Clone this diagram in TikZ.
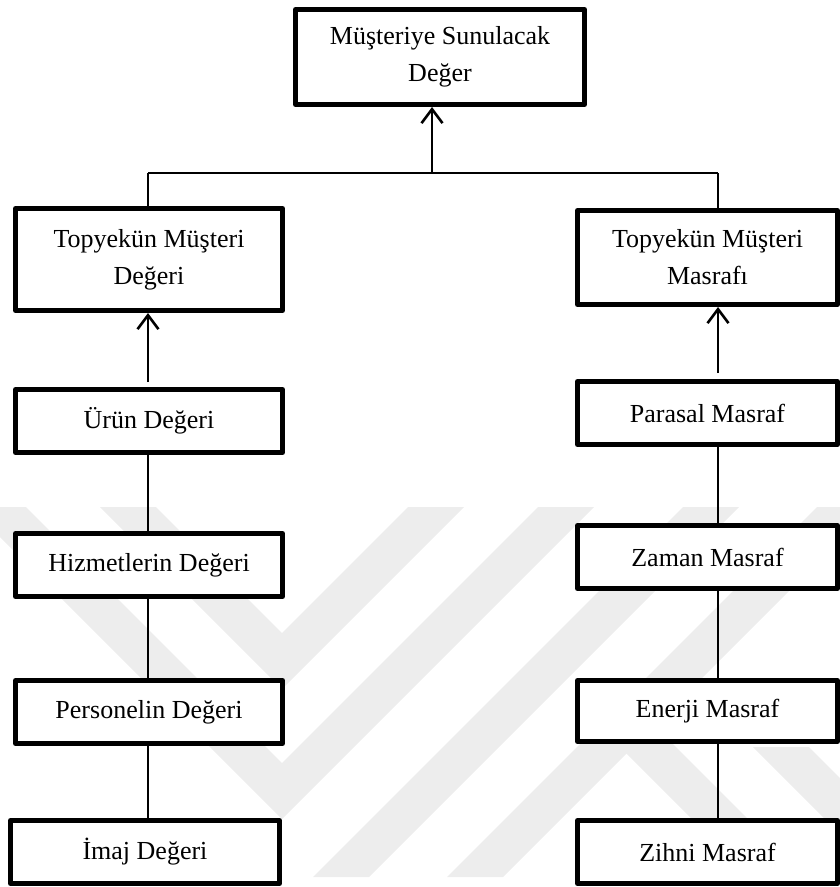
\documentclass[tikz,border=0pt]{standalone}
\usepackage{fontspec}
\setmainfont{Liberation Serif}
\usetikzlibrary{arrows.meta}
\begin{document}
\begin{tikzpicture}[x=1pt,y=-1pt,
  box/.style={draw=black, line width=5pt, fill=white, line join=round,
    align=center, inner sep=0pt, font=\fontsize{26}{37}\selectfont},
  lbox/.style={box, minimum width=267pt, minimum height=63pt},
  rbox/.style={box, minimum width=260pt, minimum height=63pt},
  link/.style={draw=black, line width=2pt},
  uparrow/.style={draw=black, line width=2.6pt,
    -{Straight Barb[length=14pt,width=21pt,line width=2.6pt]}},
  wmark/.style={fill=black!7, draw=none}
]
\useasboundingbox (0,0) rectangle (840,887);

% faint background emblem
\fill[wmark] (100,507) -- (156,507) -- (282,633) -- (408,507) -- (464,507) -- (282,689) -- cycle;
\fill[wmark] (-30,507) -- (26,507) -- (282,763) -- (538,507) -- (594,507) -- (282,819) -- cycle;
\fill[wmark] (683,507) -- (739,507) -- (369,877) -- (313,877) -- cycle;
\fill[wmark] (817,507) -- (873,507) -- (503,877) -- (447,877) -- cycle;
\fill[wmark] (613,740) -- (669,740) -- (806,877) -- (750,877) -- cycle;
\fill[wmark] (753,747) -- (809,747) -- (939,877) -- (883,877) -- cycle;

% top
\node[box, minimum width=289pt, minimum height=95pt] (top) at (440,57) {Müşteriye Sunulacak\\Değer};

% left column: value
\node[box, minimum width=267pt, minimum height=102pt] (L1) at (149,259.5) {Topyekün Müşteri\\Değeri};
\node[lbox] (L2) at (149,421) {Ürün Değeri};
\node[lbox] (L3) at (149,565) {Hizmetlerin Değeri};
\node[lbox] (L4) at (149,712) {Personelin Değeri};
\node[lbox, minimum width=269pt] (L5) at (145,852) {İmaj Değeri};

% right column: cost
\node[box, minimum width=260pt, minimum height=94pt] (R1) at (707.5,257.5) {Topyekün Müşteri\\Masrafı};
\node[rbox] (R2) at (707.5,413) {Parasal Masraf};
\node[rbox] (R3) at (707.5,557) {Zaman Masraf};
\node[rbox, minimum height=61pt] (R4) at (707.5,711) {Enerji Masraf};
\node[rbox] (R5) at (707.5,852) {Zihni Masraf};

% junction points
\coordinate (hub) at (432,173);
\coordinate (hl) at (148,173);
\coordinate (hr) at (718,173);
\coordinate (la) at (148,382);
\coordinate (ra) at (718,373);

% connectors
\draw[uparrow] (hub) -- (top.south -| hub);
\draw[link] (hl) -- (hr);
\draw[link] (hl) -- (L1.north -| hl);
\draw[link] (hr) -- (R1.north -| hr);
\draw[uparrow] (la) -- (L1.south -| la);
\draw[uparrow] (ra) -- (R1.south -| ra);

\draw[link] (L2.south -| hl) -- (L3.north -| hl);
\draw[link] (L3.south -| hl) -- (L4.north -| hl);
\draw[link] (L4.south -| hl) -- (L5.north -| hl);

\draw[link] (R2.south -| hr) -- (R3.north -| hr);
\draw[link] (R3.south -| hr) -- (R4.north -| hr);
\draw[link] (R4.south -| hr) -- (R5.north -| hr);
\end{tikzpicture}
\end{document}
